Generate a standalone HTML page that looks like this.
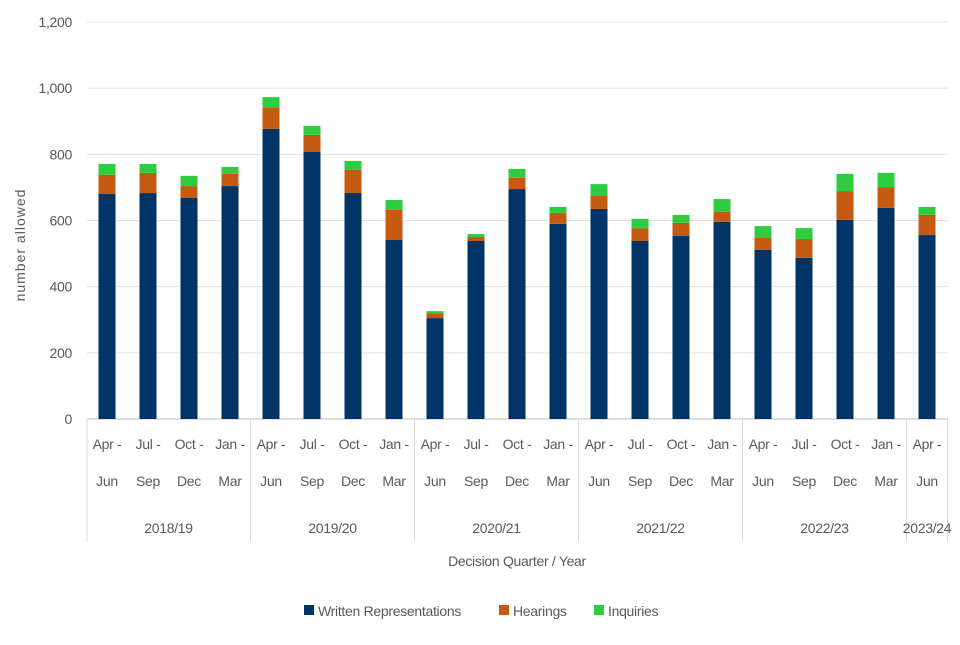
<!DOCTYPE html>
<html><head><meta charset="utf-8"><style>
body{margin:0;background:#fff;}
svg text{font-family:"Liberation Sans",sans-serif;fill:#595959;letter-spacing:-0.3px;}
</style></head><body>
<svg id="chart" width="960" height="640">
<g id="grid"></g><g id="bars"></g><g id="xaxis"></g>
<text x="25" y="245" transform="rotate(-90 25 245)" text-anchor="middle" font-size="14" style="letter-spacing:1px">number allowed</text>
<text x="517" y="566" text-anchor="middle" font-size="14">Decision Quarter / Year</text>
<g>
<rect x="304" y="605" width="10" height="10" fill="#003366"/>
<text x="318" y="616" font-size="14">Written Representations</text>
<rect x="499" y="605" width="10" height="10" fill="#c55a11"/>
<text x="513" y="616" font-size="14">Hearings</text>
<rect x="594" y="605" width="10" height="10" fill="#2ecc40"/>
<text x="608" y="616" font-size="14">Inquiries</text>
</g>
</svg>
<script>
const quarters=["Apr -|Jun","Jul -|Sep","Oct -|Dec","Jan -|Mar","Apr -|Jun","Jul -|Sep","Oct -|Dec","Jan -|Mar","Apr -|Jun","Jul -|Sep","Oct -|Dec","Jan -|Mar","Apr -|Jun","Jul -|Sep","Oct -|Dec","Jan -|Mar","Apr -|Jun","Jul -|Sep","Oct -|Dec","Jan -|Mar","Apr -|Jun"];
const years=["2018/19","2019/20","2020/21","2021/22","2022/23","2023/24"];
const yearSizes=[4,4,4,4,4,1];
const written=[680,683,668,704,877,807,683,541,305,538,695,590,635,538,553,596,511,487,602,638,556];
const hearings=[58,61,36,37,63,52,70,91,15,12,34,33,39,39,40,30,36,57,87,63,61];
const inquiries=[33,27,31,21,33,27,27,30,6,9,27,18,36,28,24,39,36,33,52,43,24];
const yTicks=[0,200,400,600,800,1000,1200];
const X0=87,X1=948,Y0=419,yScale=v=>Y0-v*(397/1200);
const step=41,bw=17,xc=i=>107+i*step;
const NS="http://www.w3.org/2000/svg";
function mk(tag,attrs,parent,txt){const e=document.createElementNS(NS,tag);for(const k in attrs)e.setAttribute(k,attrs[k]);if(txt!==undefined)e.textContent=txt;parent.appendChild(e);return e;}
const grid=document.getElementById('grid'),bars=document.getElementById('bars'),xa=document.getElementById('xaxis');
yTicks.forEach(t=>{const y=yScale(t);
 const l=mk('line',{x1:X0,x2:X1,y1:y,y2:y,stroke:t===0?'#bfbfbf':'#e0e0e0','stroke-width':1},grid);
 
 
 const tx=mk('text',{x:72,y:y+5,'text-anchor':'end','font-size':14},grid,t.toLocaleString('en-US'));
 
 
});
const series=[[written,'#003366','written'],[hearings,'#c55a11','hearings'],[inquiries,'#2ecc40','inquiries']];
quarters.forEach((q,i)=>{let base=0;
 series.forEach(([arr,col,nm])=>{const v=arr[i];const r=mk('rect',{x:xc(i)-bw/2,y:yScale(base+v),width:bw,height:yScale(base)-yScale(base+v),fill:col},bars);
  
  
  base+=v;});
 const [a,b]=q.split('|');
 const t1=mk('text',{x:xc(i),y:449,'text-anchor':'middle','font-size':14},xa,a);
 
 
 const t2=mk('text',{x:xc(i),y:486,'text-anchor':'middle','font-size':14},xa,b);
 
 
});
let idx=0;
const sep=x=>{const l=mk('line',{x1:x,x2:x,y1:Y0,y2:541,stroke:'#d9d9d9'},xa);
 
 };
sep(X0);
years.forEach((y,g)=>{const s=idx,e=idx+yearSizes[g];idx=e;
 const left=xc(s)-step/2,right=Math.min(xc(e-1)+step/2,X1);
 sep(right);
 const t=mk('text',{x:(left+right)/2,y:533,'text-anchor':'middle','font-size':14},xa,y);
 
 
});
</script>
</body></html>
